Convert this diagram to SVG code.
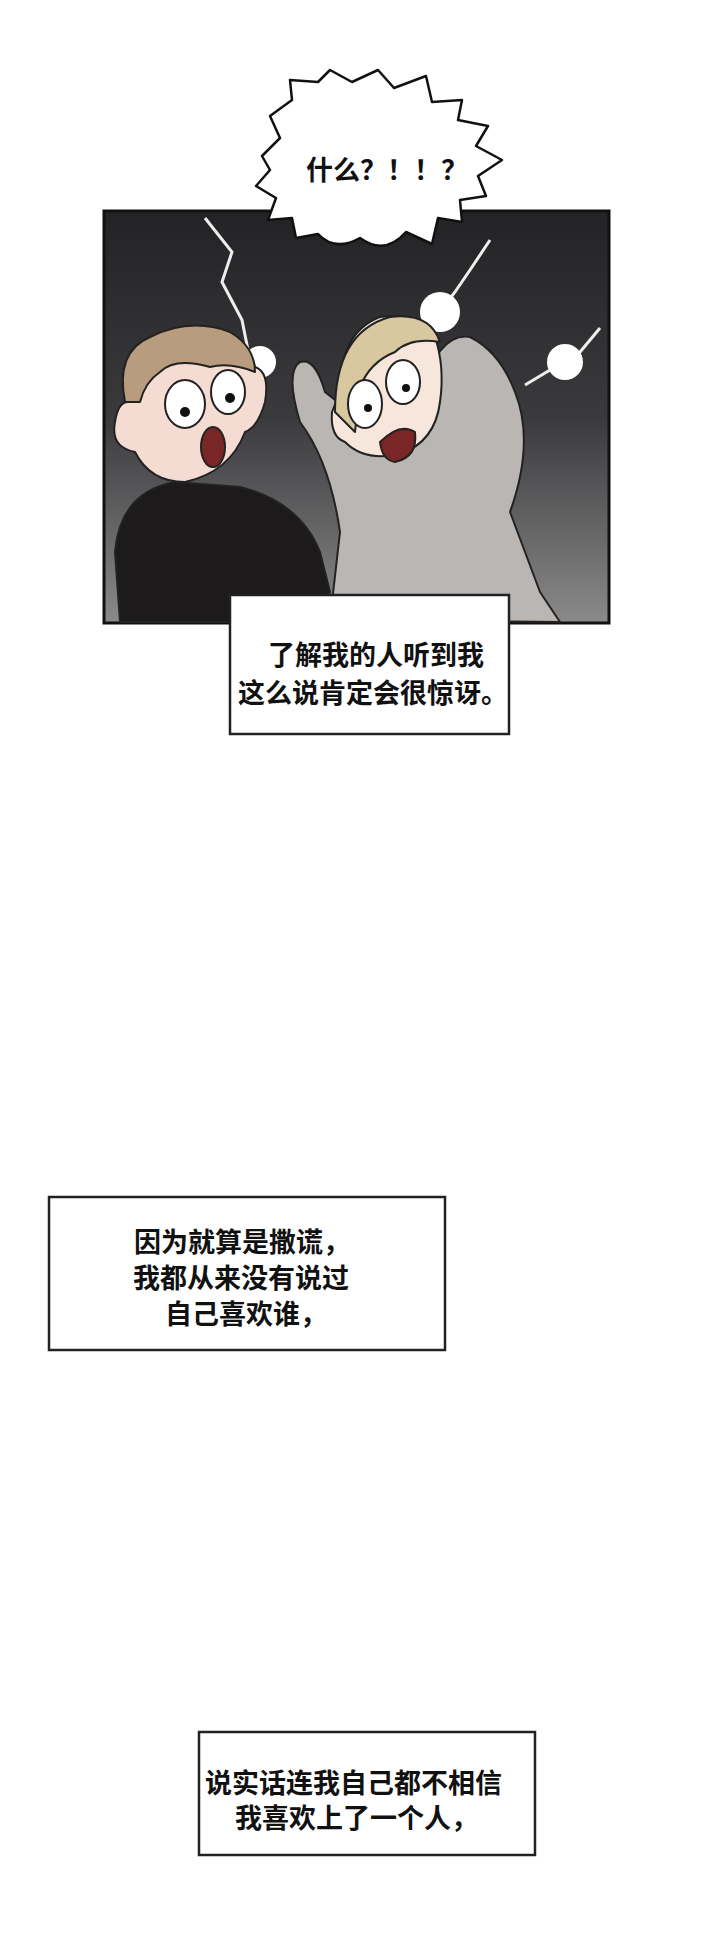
<svg xmlns="http://www.w3.org/2000/svg" width="720" height="1951" viewBox="0 0 720 1951">
<style>
.box{fill:#fff;stroke:#222;stroke-width:2.5}
.t{font-family:"Noto Sans CJK SC","Noto Sans CJK JP",sans-serif;font-weight:bold;font-size:27px;fill:#111}
.ln{stroke:#222;stroke-width:2;stroke-linejoin:round}
</style>
<defs>
<linearGradient id="bg" x1="0" y1="0" x2="0" y2="1">
<stop offset="0" stop-color="#232326"/><stop offset="0.5" stop-color="#3a3a3d"/><stop offset="1" stop-color="#8a8a8a"/>
</linearGradient>
</defs>
<rect width="720" height="1951" fill="#fff"/>
<g id="panel">
<rect x="104" y="211" width="505" height="412" fill="url(#bg)" stroke="#111" stroke-width="3"/>
<path d="M205 218 L232 252 L222 282 L242 320 L248 350" fill="none" stroke="#eee" stroke-width="3"/>
<path d="M490 240 L470 270 L455 292 L440 312" fill="none" stroke="#eee" stroke-width="3"/>
<path d="M600 328 L580 352 L525 385" fill="none" stroke="#eee" stroke-width="3"/>
<circle cx="565" cy="362" r="18" fill="#fff"/>
<circle cx="440" cy="312" r="20" fill="#fff"/>
<circle cx="260" cy="362" r="16" fill="#fff"/>
<!-- dark shirt guy -->
<path class="ln" d="M120 622 L115 552 Q120 492 175 482 L240 487 Q300 502 320 552 L330 592 L310 622 Z" fill="#1c1a1a"/>
<path class="ln" d="M125 372 Q140 332 190 327 Q245 327 255 367 Q270 372 265 402 Q258 427 245 432 Q230 472 185 482 Q150 482 135 452 Q110 447 115 422 Q118 402 128 402 Z" fill="#f4dcd3"/>
<path class="ln" d="M125 402 Q115 352 150 337 Q190 317 230 332 Q255 347 255 372 Q230 362 210 367 Q175 357 160 372 Q145 382 140 402 Z" fill="#b99b7e"/>
<ellipse class="ln" cx="185" cy="404" rx="20" ry="24" fill="#fff"/><circle cx="185" cy="412" r="5" fill="#111"/>
<ellipse class="ln" cx="228" cy="392" rx="17" ry="22" fill="#fff"/><circle cx="230" cy="398" r="5" fill="#111"/>
<ellipse class="ln" cx="213" cy="447" rx="12" ry="20" fill="#7a2626"/>
<!-- blond guy -->
<path class="ln" d="M330 620 L340 532 Q330 462 300 422 Q285 372 300 362 Q315 357 325 392 L350 412 L420 392 Q440 332 470 337 Q500 352 515 392 Q535 442 510 512 L540 592 L560 622 Z" fill="#b9b6b4"/>
<path class="ln" d="M340 392 Q340 332 380 317 Q415 312 435 337 Q445 367 440 402 Q435 442 400 454 Q365 462 345 442 Q330 437 332 412 Z" fill="#f6e6dc"/>
<path class="ln" d="M335 412 Q335 332 390 317 Q430 312 440 342 Q410 337 395 352 Q370 362 360 387 L355 432 Z" fill="#d8c79f"/>
<ellipse class="ln" cx="365" cy="404" rx="17" ry="24" fill="#fff"/><circle cx="368" cy="408" r="4" fill="#111"/>
<ellipse class="ln" cx="403" cy="382" rx="17" ry="22" fill="#fff"/><circle cx="406" cy="388" r="4" fill="#111"/>
<path class="ln" d="M380 442 Q400 422 415 432 Q418 457 395 462 Q382 460 380 442 Z" fill="#7a2626"/>
</g>
<g id="bubble">
<path d="M262 156 L280 138 L270 116 L292 100 L290 80 L318 82 L330 70 L352 82 L378 70 L394 88 L426 76 L432 102 L462 100 L458 120 L488 126 L476 146 L502 160 L478 176 L486 196 L460 200 L462 222 L438 218 L432 244 L406 232 Q385 256 360 238 Q335 252 318 234 L296 238 L292 218 L268 220 L276 198 L256 186 L270 170 Z" fill="#fff" stroke="#111" stroke-width="2.5" stroke-linejoin="round"/>
<text class="t" x="387" y="180" text-anchor="middle" font-size="26">什么？！！？</text>
</g>
<g id="caption1">
<rect class="box" x="230" y="595" width="279" height="139"/>
<text class="t" x="268" y="665">了解我的人听到我</text>
<text class="t" x="238" y="703">这么说肯定会很惊讶。</text>
</g>
<g id="caption2">
<rect class="box" x="49" y="1197" width="396" height="153"/>
<text class="t" x="134" y="1252">因为就算是撒谎，</text>
<text class="t" x="133" y="1288">我都从来没有说过</text>
<text class="t" x="165" y="1324">自己喜欢谁，</text>
</g>
<g id="caption3">
<rect class="box" x="199" y="1732" width="336" height="123"/>
<text class="t" x="205" y="1793">说实话连我自己都不相信</text>
<text class="t" x="235" y="1828">我喜欢上了一个人，</text>
</g>
</svg>
